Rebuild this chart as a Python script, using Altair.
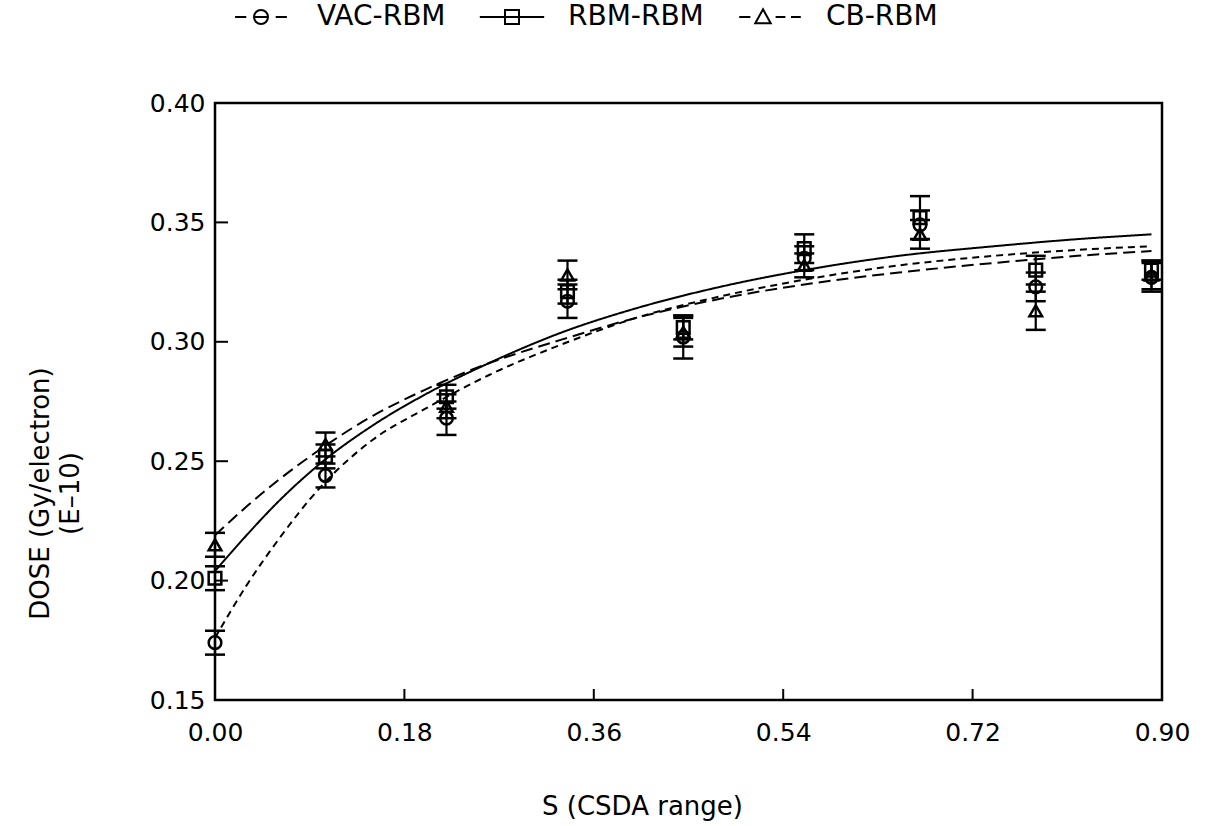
import altair as alt
import pandas as pd

# ---------------- data ----------------
series = ["VAC-RBM", "RBM-RBM", "CB-RBM"]

s_pts = [0.0, 0.105, 0.22, 0.335, 0.445, 0.56, 0.67, 0.78, 0.89]
vac = [0.174, 0.244, 0.268, 0.317, 0.302, 0.335, 0.349, 0.323, 0.327]
rbm = [0.201, 0.252, 0.277, 0.321, 0.306, 0.339, 0.352, 0.330, 0.330]
cb = [0.215, 0.257, 0.273, 0.328, 0.304, 0.332, 0.345, 0.313, 0.328]

vac_err = [0.005, 0.005, 0.007, 0.007, 0.009, 0.005, 0.006, 0.006, 0.006]
rbm_err = [0.005, 0.005, 0.005, 0.005, 0.005, 0.006, 0.009, 0.006, 0.004]
cb_err = [0.005, 0.005, 0.005, 0.006, 0.006, 0.005, 0.006, 0.008, 0.006]

s_fit = [0.0, 0.03, 0.06, 0.1, 0.15, 0.2, 0.26, 0.33, 0.4, 0.48, 0.56, 0.65, 0.74, 0.82, 0.89]
vac_fit = [0.176, 0.198, 0.217, 0.239, 0.259, 0.272, 0.286, 0.299, 0.310, 0.319, 0.326, 0.332, 0.336, 0.3385, 0.340]
rbm_fit = [0.204, 0.219, 0.233, 0.249, 0.265, 0.278, 0.291, 0.304, 0.314, 0.323, 0.330, 0.336, 0.340, 0.343, 0.345]
cb_fit = [0.219, 0.231, 0.242, 0.255, 0.269, 0.280, 0.291, 0.301, 0.310, 0.318, 0.324, 0.329, 0.333, 0.336, 0.338]

x_ticks = [0.0, 0.18, 0.36, 0.54, 0.72, 0.90]
y_ticks = [0.15, 0.20, 0.25, 0.30, 0.35, 0.40]

# ---------------- tables ----------------
n = len(s_pts)
pts = pd.DataFrame({
    "s": s_pts * 3,
    "dose": vac + rbm + cb,
    "err": vac_err + rbm_err + cb_err,
    "series": [series[0]] * n + [series[1]] * n + [series[2]] * n,
})
pts["lo"] = pts["dose"] - pts["err"]
pts["hi"] = pts["dose"] + pts["err"]

m = len(s_fit)
fit = pd.DataFrame({
    "s": s_fit * 3,
    "dose": vac_fit + rbm_fit + cb_fit,
    "series": [series[0]] * m + [series[1]] * m + [series[2]] * m,
})

xt = pd.DataFrame({"v": x_ticks[1:-1]})
yt = pd.DataFrame({"v": y_ticks[1:-1]})

FONT = "DejaVu Sans"
W, H = 947, 597

xscale = alt.Scale(domain=[0, 0.9], nice=False, zero=False)
yscale = alt.Scale(domain=[0.15, 0.40], nice=False, zero=False)

xaxis = alt.Axis(values=x_ticks, format=".2f", title="S (CSDA range)",
                 grid=False, domain=False, ticks=False, labelPadding=20, labelFlush=False,
                 labelFontSize=25, titleFontSize=26, titlePadding=48, titleX=427)
yaxis = alt.Axis(values=y_ticks, format=".2f", title=["DOSE (Gy/electron)", "(E\u201310)"],
                 grid=False, domain=False, ticks=False, labelPadding=10, labelFlush=False,
                 labelFontSize=25, titleFontSize=26, titlePadding=66, titleLineHeight=30,
                 titleY=390)

dash_scale = alt.Scale(domain=series, range=[[7, 5], [1, 0], [12, 6]])

lines = alt.Chart(fit).mark_line(color="black", strokeWidth=2, interpolate="monotone").encode(
    x=alt.X("s:Q", scale=xscale, axis=xaxis),
    y=alt.Y("dose:Q", scale=yscale, axis=yaxis),
    strokeDash=alt.StrokeDash("series:N", scale=dash_scale, legend=None),
    detail="series:N",
)

bars = alt.Chart(pts).mark_rule(color="black", strokeWidth=2.2, opacity=1).encode(
    x=alt.X("s:Q", scale=xscale), y=alt.Y("lo:Q", scale=yscale), y2="hi:Q")

caps_hi = alt.Chart(pts).mark_tick(color="black", orient="horizontal", size=20, thickness=2.5,
                                   opacity=1).encode(
    x=alt.X("s:Q", scale=xscale), y=alt.Y("hi:Q", scale=yscale))
caps_lo = alt.Chart(pts).mark_tick(color="black", orient="horizontal", size=20, thickness=2.5,
                                   opacity=1).encode(
    x=alt.X("s:Q", scale=xscale), y=alt.Y("lo:Q", scale=yscale))

points = alt.Chart(pts).mark_point(color="black", filled=False, size=160, strokeWidth=2.5, opacity=1).encode(
    x=alt.X("s:Q", scale=xscale),
    y=alt.Y("dose:Q", scale=yscale),
    shape=alt.Shape("series:N", scale=alt.Scale(domain=series, range=["circle", "square", "triangle-up"]),
                    legend=None),
)

legend_paths = [
    "M-3.7,0L-2.1,0M2.1,0L3.7,0M-1,0A1,1 0 1,0 1,0A1,1 0 1,0 -1,0M-1,0L1,0",
    "M-4.6,0L-1,0M1,0L4.6,0M-1,-1L1,-1L1,1L-1,1ZM-1,0L1,0",
    "M-4.4,0L-2.8,0M-1,-1.1L0.1,0.9L-2.1,0.9ZM0.8,0L2.2,0M3.0,0L4.4,0",
]

legend_layer = alt.Chart(pts).mark_point(color="black", filled=False, opacity=0).encode(
    x=alt.X("s:Q", scale=xscale),
    y=alt.Y("dose:Q", scale=yscale),
    shape=alt.Shape("series:N", scale=alt.Scale(domain=series, range=legend_paths),
                    legend=alt.Legend(title=None, orient="none", direction="horizontal",
                                      legendX=2, legendY=-100, columns=3,
                                      symbolSize=196, symbolStrokeWidth=2,
                                      symbolStrokeColor="black", symbolFillColor="transparent",
                                      symbolOffset=30, labelOffset=42, columnPadding=22,
                                      labelFontSize=28, labelFont=FONT, labelColor="black",
                                      labelLimit=400)),
)

x_tick_marks = alt.Chart(xt).mark_rule(color="black", strokeWidth=2).encode(
    x=alt.X("v:Q", scale=xscale), y=alt.value(H), y2=alt.value(H - 11))
y_tick_marks = alt.Chart(yt).mark_rule(color="black", strokeWidth=2).encode(
    y=alt.Y("v:Q", scale=yscale), x=alt.value(0), x2=alt.value(13))

chart = alt.layer(
    lines, bars, caps_hi, caps_lo, points, legend_layer, x_tick_marks, y_tick_marks
).resolve_scale(shape="independent").properties(
    width=W, height=H,
    autosize=alt.AutoSizeParams(type="none"),
    padding={"left": 215, "top": 103, "right": 48, "bottom": 126},
    background="white",
).configure_view(
    stroke="black", strokeWidth=2.5
).configure_axis(
    labelFont=FONT, titleFont=FONT, labelColor="black", titleColor="black",
    titleFontWeight="normal",
)

chart.save("out.html", embed_options={"renderer": "svg", "actions": False})
